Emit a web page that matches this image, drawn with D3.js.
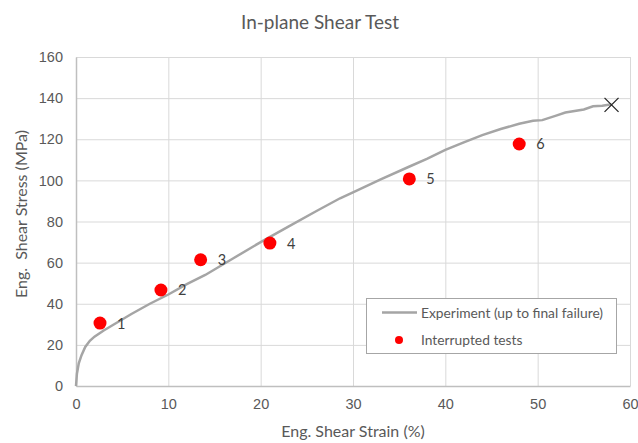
<!DOCTYPE html>
<html lang="en">
<head>
  <meta charset="UTF-8">
  <title>In-plane Shear Test</title>
  <script src="https://d3js.org/d3.v7.min.js"></script>
  <style>
    body { margin: 0; background: #fff; }
    svg { display: block; font-family: Lato, "Noto Sans", sans-serif; }
    .grid line { stroke: #d9d9d9; stroke-width: 1; }
    .tick text { fill: #595959; font-size: 14.5px; }
  </style>
</head>
<body>
<svg width="638" height="443"></svg>
<script>
// experiment curve (strain %, stress MPa)
const curveStrain = [0, 0.1, 0.3, 0.6, 1.0, 1.5, 2.0, 3.0, 4.5, 6.0, 8.0, 10.0, 12.0, 14.0, 17.0, 20.0, 23.0, 26.0, 28.6, 30.0, 33.0, 36.0, 38.0, 40.0, 42.0, 44.0, 46.0, 48.0, 49.5, 50.5, 52.0, 53.0, 55.0, 56.0, 57.0, 58.0];
const curveStress = [0, 6, 11, 15, 19, 22, 24, 27, 31, 35, 40, 44.5, 49.5, 54, 62, 70, 77.5, 85, 91.3, 94.2, 100.5, 106.5, 110.5, 114.8, 118.5, 122, 125, 127.5, 129, 129.3, 131.5, 133, 134.5, 136, 136.3, 137];
// interrupted tests
const testLabels = ["1", "2", "3", "4", "5", "6"];
const testStrain = [2.6, 9.2, 13.5, 21.0, 36.1, 48.0];
const testStress = [30.6, 46.7, 61.4, 69.5, 100.7, 117.7];
// final failure
const failStrain = 58.0, failStress = 136.7;

const xTicks = [0, 10, 20, 30, 40, 50, 60];
const yTicks = [0, 20, 40, 60, 80, 100, 120, 140, 160];

const svg = d3.select('svg');
const plotL = 76, plotR = 630, plotT = 57, plotB = 386;

const x = d3.scaleLinear().domain([0, 60]).range([plotL, plotR]);
const y = d3.scaleLinear().domain([0, 160]).range([plotB, plotT]);

// gridlines
svg.append('g').attr('class', 'grid')
  .attr('transform', `translate(0,${plotB})`)
  .call(d3.axisBottom(x).tickValues(xTicks).tickSize(-(plotB - plotT)).tickFormat(''))
  .call(g => g.select('.domain').remove());
svg.append('g').attr('class', 'grid')
  .attr('transform', `translate(${plotL},0)`)
  .call(d3.axisLeft(y).tickValues(yTicks).tickSize(-(plotR - plotL)).tickFormat(''))
  .call(g => g.select('.domain').remove());

// axes
const xAxis = svg.append('g')
  .attr('transform', `translate(0,${plotB})`)
  .call(d3.axisBottom(x).tickValues(xTicks).tickSize(0).tickPadding(13));
xAxis.select('.domain').attr('stroke', '#bfbfbf').attr('stroke-width', 1.5);

const yAxis = svg.append('g')
  .attr('transform', `translate(${plotL},0)`)
  .call(d3.axisLeft(y).tickValues(yTicks).tickSize(0).tickPadding(13));
yAxis.select('.domain').attr('stroke', '#bfbfbf').attr('stroke-width', 1.5);

// curve
const line = d3.line().x(d => x(d[0])).y(d => y(d[1]));
svg.append('path')
  .datum(d3.zip(curveStrain, curveStress))
  .attr('d', line)
  .attr('fill', 'none')
  .attr('stroke', '#a5a5a5')
  .attr('stroke-width', 2.5);

// failure marker
const fx = x(failStrain), fy = y(failStress), s = 7;
svg.append('path')
  .attr('d', `M${fx - s},${fy - s}L${fx + s},${fy + s}M${fx - s},${fy + s}L${fx + s},${fy - s}`)
  .attr('stroke', '#262626').attr('stroke-width', 1.3);

// interrupted test points
const pts = testLabels.map((l, i) => ({ l, sx: testStrain[i], sy: testStress[i] }));
svg.append('g').selectAll('circle').data(pts).join('circle')
  .attr('cx', d => x(d.sx)).attr('cy', d => y(d.sy)).attr('r', 6.5)
  .attr('fill', '#ff0000');
svg.append('g').selectAll('text').data(pts).join('text')
  .attr('x', d => x(d.sx) + 17).attr('y', d => y(d.sy) + 5.5)
  .attr('fill', '#404040').attr('font-size', 14.5)
  .text(d => d.l);

// title
svg.append('text').attr('x', 320).attr('y', 29).attr('text-anchor', 'middle')
  .attr('fill', '#595959').attr('font-size', 19).text('In-plane Shear Test');

// axis titles
svg.append('text').attr('x', 353).attr('y', 437).attr('text-anchor', 'middle')
  .attr('fill', '#595959').attr('font-size', 16).text('Eng. Shear Strain (%)');
svg.append('text').attr('transform', 'translate(27,214) rotate(-90)').attr('text-anchor', 'middle')
  .attr('fill', '#595959').attr('font-size', 16).attr('xml:space', 'preserve')
  .text('Eng.  Shear Stress (MPa)');

// legend
const lg = svg.append('g');
lg.append('rect').attr('x', 366.5).attr('y', 298.5).attr('width', 250).attr('height', 55)
  .attr('fill', '#fff').attr('stroke', '#a6a6a6').attr('stroke-width', 1);
lg.append('line').attr('x1', 382).attr('x2', 417).attr('y1', 312.5).attr('y2', 312.5)
  .attr('stroke', '#a5a5a5').attr('stroke-width', 2.5);
lg.append('text').attr('x', 421).attr('y', 317.5).attr('fill', '#595959').attr('font-size', 13.8)
  .text('Experiment (up to final failure)');
lg.append('circle').attr('cx', 399).attr('cy', 340).attr('r', 4).attr('fill', '#ff0000');
lg.append('text').attr('x', 421).attr('y', 345).attr('fill', '#595959').attr('font-size', 13.8)
  .text('Interrupted tests');
</script>
</body>
</html>
